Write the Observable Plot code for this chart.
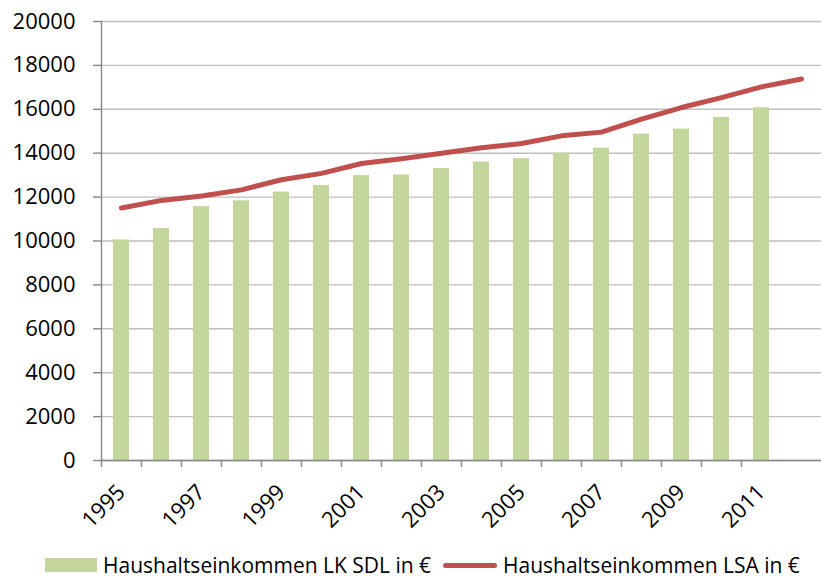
<!DOCTYPE html>
<html>
<head>
<meta charset="utf-8">
<script src="https://cdn.jsdelivr.net/npm/d3@7"></script>
<script src="https://cdn.jsdelivr.net/npm/@observablehq/plot@0.6"></script>
<style>
  html, body { margin: 0; padding: 0; background: #fff; }
  #wrap { position: relative; width: 821px; font-family: "Open Sans", sans-serif; }
  #legend { position: relative; height: 36px; font-size: 21px; color: #000; }
  .item { position: absolute; top: 2px; height: 36px; display: flex; align-items: center; white-space: nowrap; }
  .sw-bar { width: 52px; height: 14px; background: #C3D69B; margin-right: 6px; }
  .sw-line { width: 54px; height: 5px; border-radius: 3px; background: #C0504D; margin-right: 6px; }
</style>
</head>
<body>
<div id="wrap">
  <div id="chart"></div>
  <div id="legend"></div>
</div>
<script>
const barYears = [1995,1996,1997,1998,1999,2000,2001,2002,2003,2004,2005,2006,2007,2008,2009,2010,2011];
const sdlValues = [10050,10570,11570,11830,12230,12530,12980,13010,13300,13600,13750,14000,14230,14870,15100,15630,16070];
const lineYears = [1995,1996,1997,1998,1999,2000,2001,2002,2003,2004,2005,2006,2007,2008,2009,2010,2011,2012];
const lsaValues = [11500,11850,12050,12330,12790,13080,13530,13750,14000,14250,14440,14790,14960,15550,16080,16530,17020,17380];
const yTicks = [0,2000,4000,6000,8000,10000,12000,14000,16000,18000,20000];
const xLabelYears = [1995,1997,1999,2001,2003,2005,2007,2009,2011];
const seriesNames = ["Haushaltseinkommen LK SDL in €", "Haushaltseinkommen LSA in €"];

const bars = barYears.map((year, i) => ({year, value: sdlValues[i]}));
const line = lineYears.map((year, i) => ({year, value: lsaValues[i]}));
const boundaries = barYears.map(y => y - 0.5);

const chart = Plot.plot({
  width: 821,
  height: 545,
  marginLeft: 101,
  marginRight: 0,
  marginTop: 21,
  marginBottom: 85,
  style: {fontFamily: "Open Sans, sans-serif", fontSize: "22px", color: "#000", background: "#fff"},
  x: {type: "linear", domain: [1994.5, 2012.5], axis: null, label: null},
  y: {domain: [0, 20000], axis: null, label: null},
  marks: [
    Plot.gridY(yTicks, {stroke: "#BFBFBF", strokeOpacity: 1, strokeWidth: 1.4}),
    Plot.rectY(bars, {x1: d => d.year - 0.2, x2: d => d.year + 0.2, y: "value", fill: "#C3D69B"}),
    Plot.lineY(line, {x: "year", y: "value", stroke: "#C0504D", strokeWidth: 5, strokeLinecap: "round", strokeLinejoin: "round"}),
    Plot.frame({anchor: "left", stroke: "#868686", strokeWidth: 1.4}),
    Plot.frame({anchor: "bottom", stroke: "#868686", strokeWidth: 1.4}),
    Plot.axisY(yTicks, {label: null, tickSize: 8, tickPadding: 18, stroke: "#868686", strokeWidth: 1.4, fill: "#000", tickFormat: d => String(d), fontSize: 22}),
    Plot.axisX(boundaries, {label: null, tickSize: 7, stroke: "#868686", strokeWidth: 1.4, tickFormat: () => ""}),
    Plot.axisX(xLabelYears, {label: null, tickSize: 0, tickPadding: 28, tickRotate: -45, fill: "#000", tickFormat: d => String(d), fontSize: 22})
  ]
});
document.getElementById("chart").appendChild(chart);

const legend = document.getElementById("legend");
const lefts = [45, 443];
seriesNames.forEach((name, i) => {
  const item = document.createElement("div");
  item.className = "item";
  item.style.left = lefts[i] + "px";
  const sw = document.createElement("div");
  sw.className = i === 0 ? "sw-bar" : "sw-line";
  const t = document.createElement("span");
  t.textContent = name;
  item.appendChild(sw);
  item.appendChild(t);
  legend.appendChild(item);
});
</script>
</body>
</html>
